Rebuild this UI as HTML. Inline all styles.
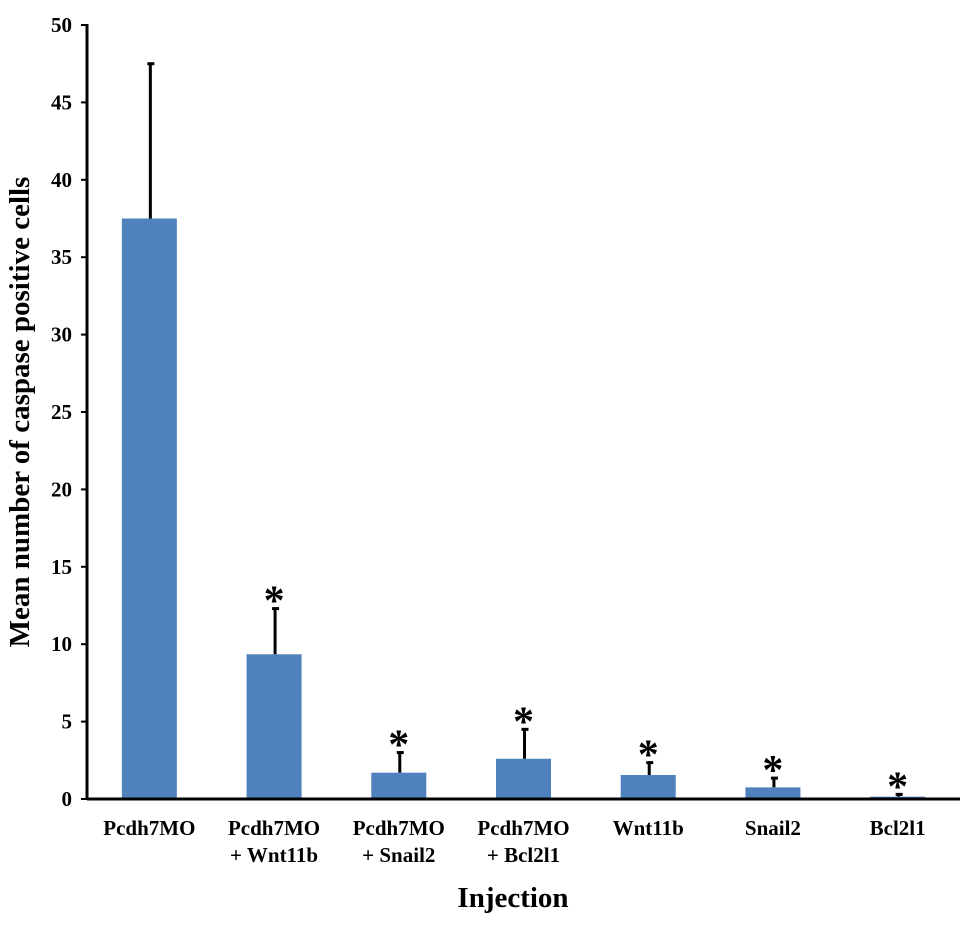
<!DOCTYPE html>
<html><head><meta charset="utf-8"><style>
body{margin:0;background:#fff;}
svg text{font-family:"Liberation Serif",serif;font-weight:bold;fill:#000;}
</style></head><body>
<svg id="chart" width="971" height="922" xmlns="http://www.w3.org/2000/svg">
<g id="plot"></g>
<text x="0" y="0" transform="translate(29,412) rotate(-90)" text-anchor="middle" font-size="29">Mean number of caspase positive cells</text>
<text x="513" y="907" text-anchor="middle" font-size="29">Injection</text>
</svg>
<script>
const categories=[["Pcdh7MO"],["Pcdh7MO","+ Wnt11b"],["Pcdh7MO","+ Snail2"],["Pcdh7MO","+ Bcl2l1"],["Wnt11b"],["Snail2"],["Bcl2l1"]];
const means=[37.5,9.35,1.7,2.6,1.55,0.75,0.15];
const errors=[10.0,2.95,1.3,1.9,0.8,0.6,0.15];
const significant=[false,true,true,true,true,true,true];
const yTicks=[0,5,10,15,20,25,30,35,40,45,50];
const NS="http://www.w3.org/2000/svg";
const g=document.getElementById('plot');
const x0=87,x1=960,yTop=25,yBot=799;
const y=v=>yBot-(v/50)*(yBot-yTop);
const step=(x1-x0)/categories.length;
const cx=i=>x0+step*(i+0.5);
function el(t,a){const e=document.createElementNS(NS,t);for(const k in a)e.setAttribute(k,a[k]);g.appendChild(e);return e;}
yTicks.forEach(t=>{
 const l=el('line',{x1:x0-6,x2:x0,y1:y(t),y2:y(t),stroke:'#000','stroke-width':2});
 
 
 const tx=el('text',{x:x0-15,y:y(t)+7,'text-anchor':'end','font-size':21});
 tx.textContent=t;
 
 
});
means.forEach((m,i)=>{
 const c=cx(i),w=55;
 const eTop=y(m+errors[i]);
 const s=el('line',{x1:c+1,x2:c+1,y1:y(m),y2:eTop,stroke:'#000','stroke-width':3});
 
 
 const cap=el('line',{x1:c-2,x2:c+5,y1:eTop,y2:eTop,stroke:'#000','stroke-width':3});
 
 
 const r=el('rect',{x:c-w/2,y:y(m),width:w,height:yBot-y(m),fill:'#4f81bd'});
 
 
 if(significant[i]){
  const st=el('text',{x:c,y:eTop+6,'text-anchor':'middle','font-size':42});
  st.textContent='*';
  
  
 }
 categories[i].forEach((ln,j)=>{
  const t=el('text',{x:c,y:835+j*27,'text-anchor':'middle','font-size':21});
  t.textContent=ln;
  
  
 });
});
const ya=el('line',{x1:x0,x2:x0,y1:yTop-1,y2:yBot+1,stroke:'#000','stroke-width':3});


const xa=el('line',{x1:x0,x2:x1,y1:yBot,y2:yBot,stroke:'#000','stroke-width':3});


</script>
</body></html>
